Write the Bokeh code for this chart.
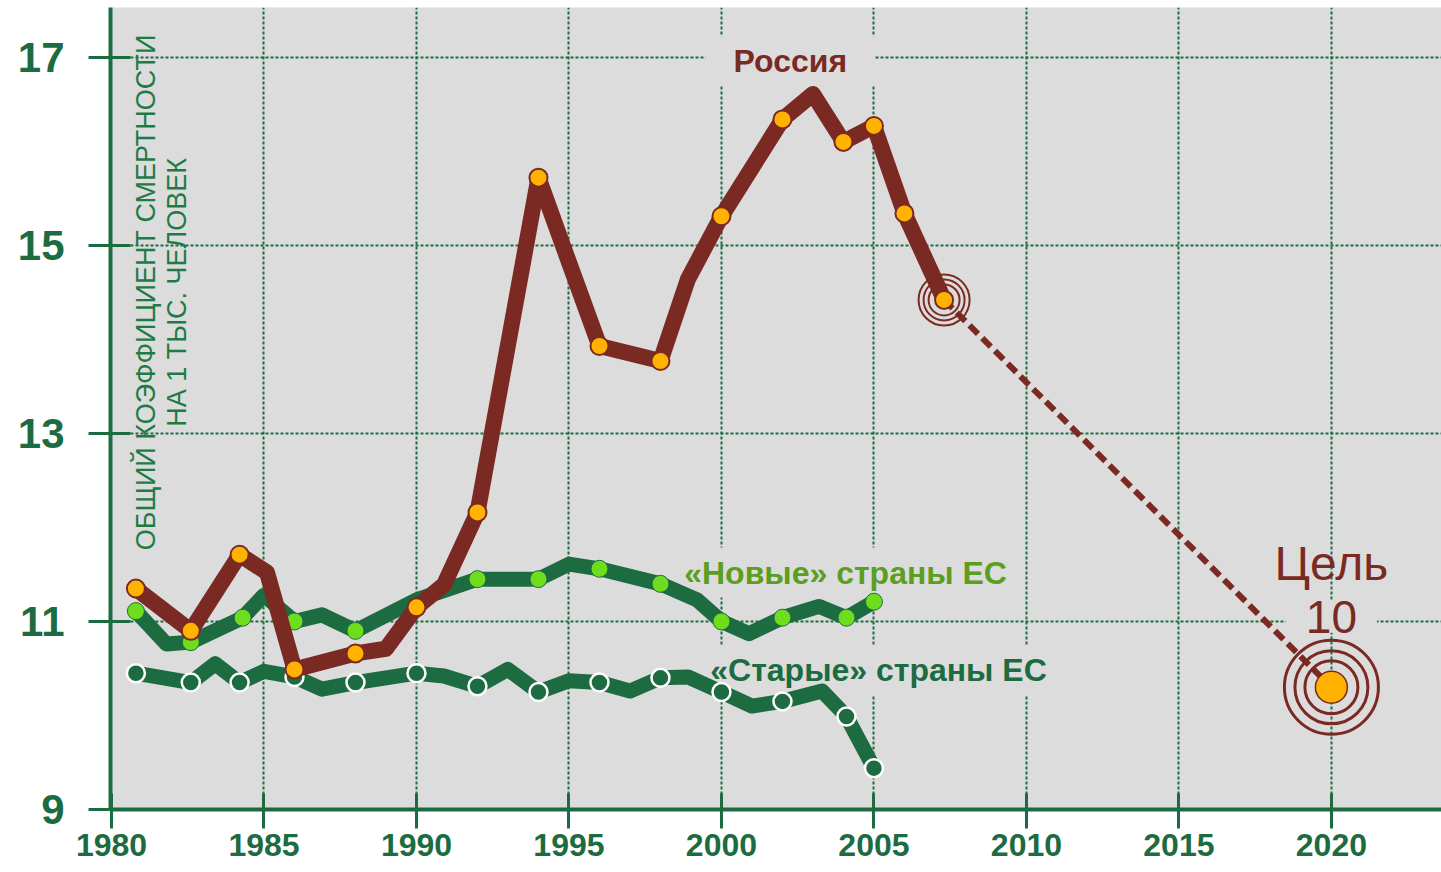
import math
from bokeh.plotting import figure
from bokeh.models import Label, FixedTicker, Range1d
from bokeh.embed import file_html
from bokeh.resources import INLINE

# ---------------- data ----------------
x_ticks = [1980, 1985, 1990, 1995, 2000, 2005, 2010, 2015, 2020]
y_ticks = [9, 11, 13, 15, 17]

russia_years = [1980.8, 1982.6, 1984.2, 1985.1, 1986.0, 1988.0, 1989.0, 1990.0, 1990.9, 1992.0,
                1994.0, 1995.0, 1996.0, 1998.0, 1998.9, 2000.0, 2002.0, 2003.0, 2004.0, 2005.0,
                2006.0, 2007.3]
russia_vals = [11.35, 10.90, 11.71, 11.52, 10.49, 10.66, 10.71, 11.15, 11.39, 12.16,
               15.72, 14.82, 13.93, 13.77, 14.64, 15.31, 16.34, 16.61, 16.10, 16.27,
               15.34, 14.42]
russia_marked = [1, 1, 1, 0, 1, 1, 0, 1, 0, 1, 1, 0, 1, 1, 0, 1, 1, 0, 1, 1, 1, 1]

new_years = [1980.8, 1981.8, 1982.6, 1984.3, 1985.0, 1986.0, 1986.9, 1988.0, 1990.0, 1992.0,
             1994.0, 1995.0, 1996.0, 1998.0, 1999.2, 2000.0, 2000.9, 2002.0, 2003.2, 2004.1,
             2005.0]
new_vals = [11.11, 10.76, 10.78, 11.04, 11.28, 11.00, 11.07, 10.90, 11.23, 11.45,
            11.45, 11.61, 11.56, 11.40, 11.23, 11.00, 10.87, 11.04, 11.16, 11.04,
            11.21]
new_marked = [1, 0, 1, 1, 0, 1, 0, 1, 0, 1, 1, 0, 1, 1, 0, 1, 0, 1, 0, 1, 1]

old_years = [1980.8, 1982.6, 1983.4, 1984.2, 1985.0, 1986.0, 1986.9, 1988.0, 1990.0, 1990.9,
             1992.0, 1993.0, 1994.0, 1995.0, 1996.0, 1997.0, 1998.0, 1998.9, 2000.0, 2001.0,
             2002.0, 2003.3, 2004.1, 2005.0]
old_vals = [10.45, 10.35, 10.55, 10.35, 10.47, 10.41, 10.28, 10.35, 10.45, 10.42,
            10.31, 10.49, 10.25, 10.37, 10.35, 10.26, 10.40, 10.41, 10.25, 10.10,
            10.15, 10.26, 9.99, 9.44]
old_marked = [1, 1, 0, 1, 0, 1, 0, 1, 1, 0, 1, 0, 1, 0, 1, 0, 1, 0, 1, 0, 1, 0, 1, 1]

goal_year = 2020
goal_value = 10.3

label_russia = "Россия"
label_new = "«Новые» страны ЕС"
label_old = "«Старые» страны ЕС"
label_goal = "Цель"
label_goal_value = "10"
ylabel_1 = "ОБЩИЙ КОЭФФИЦИЕНТ СМЕРТНОСТИ"
ylabel_2 = "НА 1 ТЫС. ЧЕЛОВЕК"

# ---------------- styles ----------------
GREEN = "#1D6B40"
BROWN = "#7A2A22"
ORANGE = "#FFB300"
LIGHTGREEN = "#6EDD1E"
NEWLABEL = "#5C9E1F"
BG = "#DCDCDC"
FONT = "Liberation Sans"


def pick(xs, ys, flags):
    return ([x for x, f in zip(xs, flags) if f], [y for y, f in zip(ys, flags) if f])


p = figure(width=1441, height=872,
           x_range=Range1d(1979.967, 2023.61), y_range=Range1d(9, 17.53),
           output_backend="svg", toolbar_location=None,
           min_border_left=110, min_border_right=0, min_border_top=7, min_border_bottom=63)

p.background_fill_color = BG
p.border_fill_color = "white"
p.outline_line_color = None

p.xaxis.ticker = FixedTicker(ticks=x_ticks)
p.yaxis.ticker = FixedTicker(ticks=y_ticks)
for ax in (p.xaxis[0], p.yaxis[0]):
    ax.axis_line_color = GREEN
    ax.axis_line_width = 4
    ax.major_tick_line_color = GREEN
    ax.major_tick_line_width = 3
    ax.minor_tick_line_color = None
    ax.major_label_text_color = GREEN
    ax.major_label_text_font = FONT
    ax.major_label_text_font_style = "bold"
p.xaxis.major_label_text_font_size = "32px"
p.xaxis.major_tick_in = 16
p.xaxis.major_tick_out = 19
p.xaxis.major_label_standoff = 5
p.yaxis.major_label_text_font_size = "42px"
p.yaxis.major_tick_in = 20
p.yaxis.major_tick_out = 22
p.yaxis.major_label_standoff = 24

p.xgrid.ticker = FixedTicker(ticks=x_ticks[1:])
p.ygrid.ticker = FixedTicker(ticks=y_ticks[1:])
for g in (p.xgrid[0], p.ygrid[0]):
    g.grid_line_color = GREEN
    g.grid_line_width = 2
    g.grid_line_dash = "3 2"

# label boxes (drawn under the data, over the grid); padding = (left, right, top, bottom)
def add_label(x, y, text, size, color, bold=True, pad=0, bg=None, angle=0.0):
    lab = Label(x=x, y=y, text=text, text_font=FONT, text_font_size=size,
                text_font_style="bold" if bold else "normal", text_color=color,
                text_align="center", text_baseline="middle", angle=angle,
                background_fill_color=bg, padding=pad, level="underlay")
    p.add_layout(lab)
    return lab

add_label(2002.26, 16.957, label_russia, "32px", BROWN, pad=(28, 28, 7, 7), bg=BG)
add_label(2004.07, 11.52, label_new, "32px", NEWLABEL, pad=(8, 8, 7, 7), bg=BG)
add_label(2005.15, 10.48, label_old, "32px", GREEN, pad=(8, 8, 7, 7), bg=BG)
add_label(goal_year, 11.62, label_goal, "48px", BROWN, bold=False)
add_label(goal_year, 11.05, label_goal_value, "46px", BROWN, bold=False, pad=(20, 20, 0, 0), bg=BG)
add_label(1981.115, 14.5, ylabel_1, "27px", "#1E7B43", bold=False, angle=math.pi / 2)
add_label(1982.16, 14.5, ylabel_2, "27px", "#1E7B43", bold=False, angle=math.pi / 2)

# old EU
p.line(old_years, old_vals, line_color=GREEN, line_width=15, line_join="round", line_cap="round")
ox, oy = pick(old_years, old_vals, old_marked)
p.scatter(ox, oy, marker="circle", size=18, fill_color=GREEN, line_color="white", line_width=2.5)

# new EU
p.line(new_years, new_vals, line_color=GREEN, line_width=15, line_join="round", line_cap="round")
nx, ny = pick(new_years, new_vals, new_marked)
p.scatter(nx, ny, marker="circle", size=17, fill_color=LIGHTGREEN, line_color=GREEN, line_width=1)

# projection to goal
p.line([russia_years[-1], goal_year], [russia_vals[-1], goal_value], line_color=BROWN,
       line_width=6, line_dash="12 6")

# Russia
p.line(russia_years, russia_vals, line_color=BROWN, line_width=16, line_join="round", line_cap="round")
# small target rings at the last point
for s in (51, 41, 31):
    p.scatter([russia_years[-1]], [russia_vals[-1]], marker="circle", size=s,
              fill_color=None, line_color=BROWN, line_width=2)
rx, ry = pick(russia_years, russia_vals, russia_marked)
p.scatter(rx, ry, marker="circle", size=18, fill_color=ORANGE, line_color=BROWN, line_width=2)

# goal target
for s in (94, 73, 53):
    p.scatter([goal_year], [goal_value], marker="circle", size=s,
              fill_color=None, line_color=BROWN, line_width=3)
p.scatter([goal_year], [goal_value], marker="circle", size=32, fill_color=ORANGE,
          line_color=BROWN, line_width=1.5)

open("out.html", "w").write(file_html(p, INLINE))
